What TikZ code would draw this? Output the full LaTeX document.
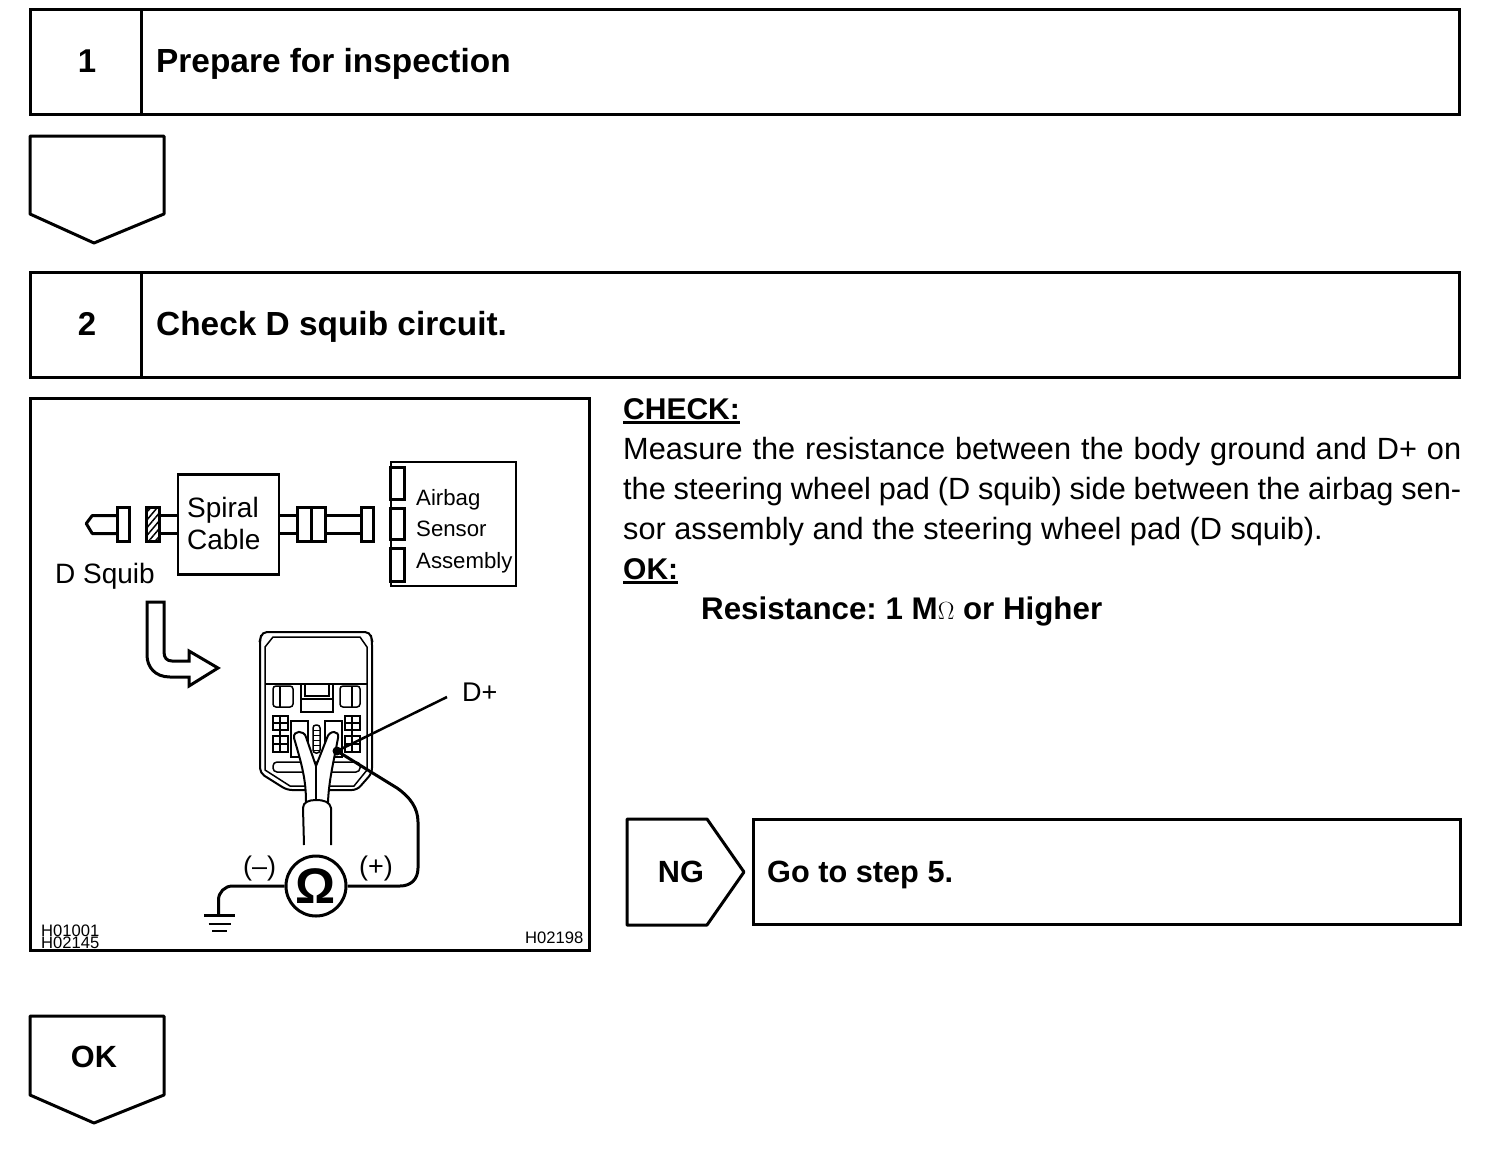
\documentclass[tikz,border=0pt]{standalone}
\usepackage{fontspec}
\setmainfont{Liberation Sans}
\usetikzlibrary{patterns.meta}

\newcommand{\heavyline}[1]{\setbox0\hbox{#1}\rlap{\rule[-5pt]{\wd0}{3pt}}\box0}

\tikzset{
    stepbox/.style={draw, line width=3.2pt, anchor=north west, inner sep=0pt},
    partbox/.style={draw, fill=white, line width=2.5pt, inner sep=0pt},
    wire/.style={line width=3pt},
    detail/.style={line width=1.5pt},
    headtext/.style={anchor=base west, inner sep=0pt, font=\fontsize{33.4}{40}\selectfont\bfseries},
    numtext/.style={anchor=base, inner sep=0pt, font=\fontsize{33}{40}\selectfont\bfseries},
    tagtext/.style={anchor=base, inner sep=0pt, font=\fontsize{30.7}{40}\selectfont\bfseries},
    labeltext/.style={anchor=base west, inner sep=0pt, font=\fontsize{28}{32}\selectfont},
    smalltext/.style={anchor=base west, inner sep=0pt, font=\fontsize{22.2}{26}\selectfont},
    codetext/.style={anchor=base west, inner sep=0pt, font=\fontsize{16.6}{20}\selectfont}
}

\begin{document}
\begin{tikzpicture}[x=1pt,y=-1pt]

        \useasboundingbox (0,0) rectangle (1504,1154);

        % Step 1
        \node[stepbox, minimum width=1429pt, minimum height=105pt] (stepone) at (29,8) {};
        \draw[line width=3pt] (141.5,9) -- (141.5,115);
        \node[numtext] (numone) at (87,72) {1};
        \node[headtext] (headone) at (156,72) {Prepare for inspection};

        % Down arrow after step 1
        \draw[line width=3pt, line join=round] (30,136) -- (164,136) -- (164,214) -- (94,243) -- (30,214) -- cycle;

        % Step 2
        \node[stepbox, minimum width=1429pt, minimum height=105pt] (steptwo) at (29,271) {};
        \draw[line width=3pt] (141.5,272) -- (141.5,378);
        \node[numtext] (numtwo) at (87,335) {2};
        \node[headtext] (headtwo) at (156,335) {Check D squib circuit.};

        % Frame of the picture
        \node[stepbox, minimum width=559pt, minimum height=552pt] (frame) at (29,397) {};

        % Parts along the top
        \node[partbox, minimum width=101pt, minimum height=100pt] (spiral) at (228.5,524.5) {};
        \node[labeltext] (spiralone) at (187,517) {Spiral};
        \node[labeltext] (spiraltwo) at (187,549) {Cable};
        \node[partbox, minimum width=12pt, minimum height=34pt] (squibplug) at (123.5,524.5) {};
        \node[partbox, minimum width=13pt, minimum height=34pt, fill=none,
            pattern={Lines[angle=50, distance=5pt, line width=1.5pt]}] (squibhatch) at (153,524.5) {};
        \node[partbox, minimum width=28pt, minimum height=34pt] (midplug) at (311.5,524.5) {};
        \draw[line width=2.5pt] (midplug.north) -- (midplug.south);
        \node[partbox, minimum width=12pt, minimum height=34pt] (endplug) at (367.5,524.5) {};
        \node[labeltext] (squiblabel) at (55,583) {D Squib};

        % Wires between the parts
        \draw[wire, line join=round] ([yshift=9pt]squibplug.west) -- ++(-24,0) -- ++(-6,8) -- ++(6,10) -- ([yshift=-9pt]squibplug.west);
        \draw[wire] ([yshift=9pt]squibhatch.east) -- ([yshift=9pt]spiral.west);
        \draw[wire] ([yshift=-9pt]squibhatch.east) -- ([yshift=-9pt]spiral.west);
        \draw[wire] ([yshift=9pt]spiral.east) -- ([yshift=9pt]midplug.west);
        \draw[wire] ([yshift=-9pt]spiral.east) -- ([yshift=-9pt]midplug.west);
        \draw[wire] ([yshift=9pt]midplug.east) -- ([yshift=9pt]endplug.west);
        \draw[wire] ([yshift=-9pt]midplug.east) -- ([yshift=-9pt]endplug.west);

        % Airbag sensor assembly
        \node[partbox, minimum width=125pt, minimum height=124pt] (sensor) at (453.5,524) {};
        \node[partbox, minimum width=14pt, minimum height=32pt] (pinone) at (397.5,483.5) {};
        \node[partbox, minimum width=14pt, minimum height=31pt] (pintwo) at (397.5,524) {};
        \node[partbox, minimum width=14pt, minimum height=33pt] (pinthree) at (397.5,565) {};
        \node[smalltext] (airbag) at (416,505) {Airbag};
        \node[smalltext] (sensorlabel) at (416,536) {Sensor};
        \node[smalltext] (assembly) at (416,568) {Assembly};

        % Bent arrow
        \draw[line width=3pt, line join=miter] (147,602) -- (164,602) -- (164,652)
            .. controls (164,658) and (167,661) .. (172,661) -- (189,661) -- (189,651) -- (218,668)
            -- (189,686) -- (189,677) -- (170,677)
            .. controls (155,677) and (147,667) .. (147,655) -- cycle;

        % Connector body
        \draw[line width=2pt, rounded corners=5pt] (262,632) -- (370,632) -- (372,640) -- (372,773) -- (357,790)
            -- (287,790) -- (260,773) -- (260,640) -- cycle;
        \draw[detail] (273,637) -- (360,637) -- (367,647) -- (367,770) -- (354,786)
            -- (290,786) -- (265,770) -- (265,647) -- cycle;
        \draw[detail] (265,684) -- (367,684);

        % Upper details of the connector
        \draw[detail, rounded corners=3pt] (273,686) rectangle (293,707);
        \draw[detail] (280,686) -- (280,707);
        \draw[detail, rounded corners=3pt] (340,686) rectangle (360,707);
        \draw[detail] (352,686) -- (352,707);
        \draw[line width=2pt] (301,685) -- (301,712) -- (333,712) -- (333,685);
        \draw[detail] (305,685) -- (305,696) -- (329,696) -- (329,685);
        \draw[detail] (301,699) -- (333,699);

        % Side terminals
        \foreach \px in {273,345} {
            \draw[detail] (\px,716) rectangle (\px+15,730);
            \draw[detail] (\px,736) rectangle (\px+15,752);
            \draw[detail] (\px+7,716) -- (\px+7,752);
            \draw[detail] (\px,723) -- (\px+15,723);
            \draw[detail] (\px,744) -- (\px+15,744);
        }

        % Sockets and slot
        \draw[detail, rounded corners=4pt] (273,762) rectangle (360,772);
        \draw[line width=2pt] (291,721) rectangle (308,757);
        \draw[line width=2pt] (325,721) rectangle (342,757);
        \draw[detail, rounded corners=3pt] (313,725) rectangle (320,753);
        \foreach \py in {730,735,...,750} {
            \draw[line width=1pt] (313,\py) -- (320,\py);
        }

        % Two wires into the sheath
        \draw[line width=2pt, fill=white] (306,802) .. controls (306,780) and (302,765) .. (294,738)
            .. controls (293,730) and (304,730) .. (306,737) -- (316,766) -- (327,738)
            .. controls (329,730) and (340,730) .. (338,738)
            .. controls (333,765) and (329,780) .. (328,802) -- cycle;
        \draw[line width=2pt] (316,766) -- (316,801);

        % Sheath
        \draw[line width=2pt, fill=white] (304,845) -- (303,808) .. controls (303,802) and (309,800) .. (316,800)
            .. controls (324,800) and (330,802) .. (331,808) -- (331,845);

        % Meter and ground
        \node[draw, circle, fill=white, line width=3pt, minimum size=60pt, inner sep=0pt,
            font=\fontsize{50}{54}\selectfont\bfseries] (ohm) at (316,886) {Ω};
        \coordinate (gnd) at (218.5,915);
        \coordinate (pin) at (337,751);
        \coordinate (leaderend) at (447,697);
        \draw[wire, rounded corners=14pt] (ohm.west) -- (218.5,886) -- (gnd);
        \draw[wire] (ohm.east) -- (400,886) .. controls (410,886) and (418,880) .. (418,868)
            -- (418,822) .. controls (418,808) and (410,797) .. (397,788) -- (pin);
        \draw[line width=2.5pt] (pin) -- (leaderend);
        \fill (pin) circle (4.5);
        \draw[wire] (204,915) -- (235,915);
        \draw[line width=2pt] (208.5,924) -- (231,924);
        \draw[line width=2pt] (212,931) -- (227,931);

        % Labels in the picture
        \node[labeltext, font=\fontsize{27}{30}\selectfont] (dplus) at (462,701) {D+};
        \node[labeltext, font=\fontsize{27}{30}\selectfont] (minuslabel) at (243,875) {(–)};
        \node[labeltext, font=\fontsize{27}{30}\selectfont] (pluslabel) at (359,875) {(+)};
        \node[codetext] (codeone) at (41,936) {H01001};
        \node[codetext] (codetwo) at (41,948.5) {H02145};
        \node[codetext] (codethree) at (525,943) {H02198};

        % Text of the check
        \node[anchor=north west, inner sep=0pt, text width=838pt, align=justify,
            font=\fontsize{30.7}{40}\selectfont\frenchspacing] (checktext) at (623,398) {%
            \heavyline{\fontsize{30}{40}\selectfont\textbf{CHECK:}}\\
            Measure the resistance between the body ground and D+ on\linebreak
            the steering wheel pad (D squib) side between the airbag sen-\linebreak
            sor assembly and the steering wheel pad (D squib).\\
            \heavyline{\fontsize{30}{40}\selectfont\textbf{OK:}}\\
            \hspace*{78pt}\textbf{\fontsize{31.3}{40}\selectfont Resistance: 1 M$\Omega$ or Higher}};

        % NG branch
        \draw[line width=3pt, line join=round] (627,819) -- (707,819) -- (744,872) -- (707,925) -- (627,925) -- cycle;
        \node[tagtext] (nglabel) at (681,882) {NG};
        \node[stepbox, minimum width=707pt, minimum height=105pt] (gotobox) at (752,818) {};
        \node[tagtext, anchor=base west] (gototext) at (767,882) {Go to step 5.};

        % OK arrow
        \draw[line width=3pt, line join=round] (30,1016) -- (164,1016) -- (164,1095) -- (94,1123) -- (30,1095) -- cycle;
        \node[tagtext] (oklabel) at (94,1067) {OK};

\end{tikzpicture}
\end{document}
